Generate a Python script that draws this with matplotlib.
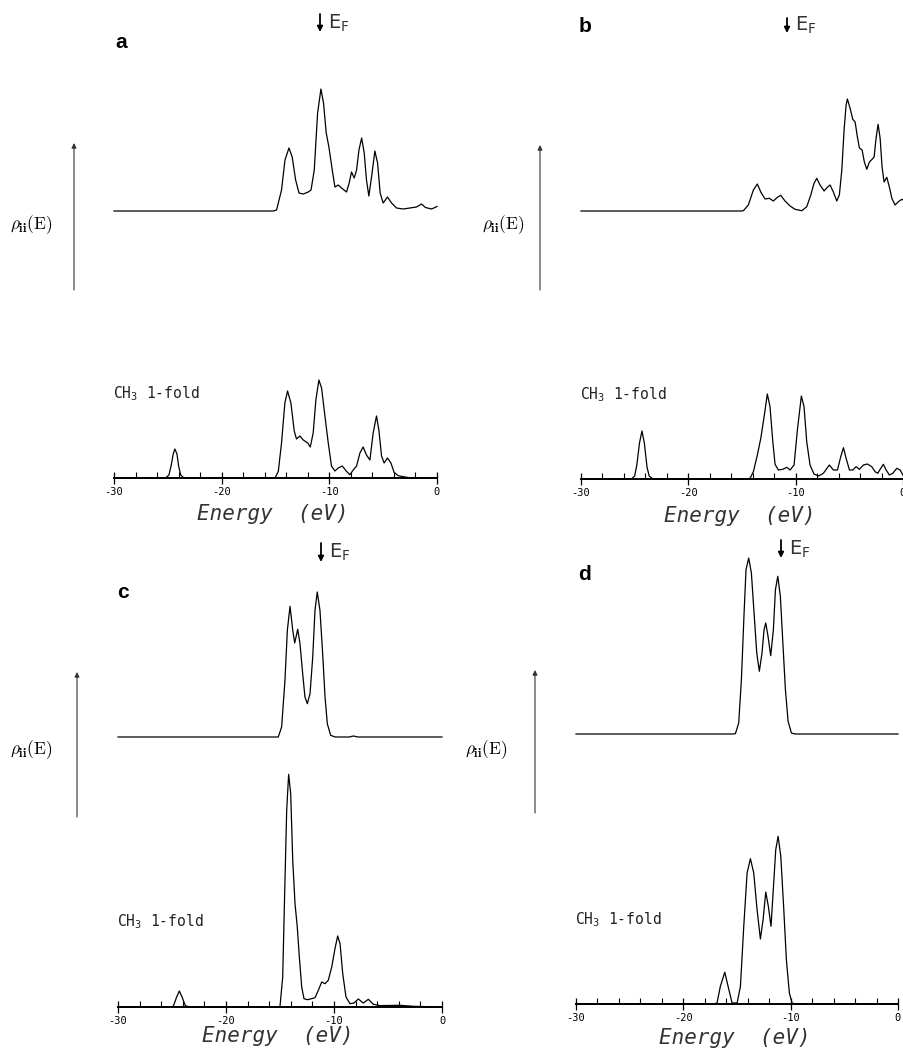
"""Local densities of states rho_ii(E) for CH3 on four sites (panels a-d)."""

import matplotlib

matplotlib.use("Agg")
import matplotlib.pyplot as plt
from matplotlib.ticker import MultipleLocator

W, H = 904, 1053

plt.rcParams["mathtext.fontset"] = "custom"
plt.rcParams["mathtext.rm"] = "DejaVu Sans Mono"
plt.rcParams["mathtext.it"] = "DejaVu Sans Mono"
plt.rcParams["mathtext.default"] = "rm"

# energies in eV, densities in arbitrary units
A_TOP_E = [-30, -15.2, -14.9, -14.44, -14.12, -13.75, -13.45, -13.13, -12.82, -12.42, -11.96, -11.7,
           -11.4, -11.09, -10.78, -10.54, -10.29, -10.04, -9.73, -9.48, -9.17, -8.87, -8.4, -8.16,
           -7.94, -7.69, -7.47, -7.25, -7.0, -6.76, -6.55, -6.33, -6.08, -5.77, -5.52, -5.28, -5.0,
           -4.6, -4.22, -3.76, -3.14, -2.52, -1.9, -1.44, -1.07, -0.5, 0]
A_TOP_RHO = [0, 0, 1, 21, 51, 63, 54, 31, 18, 17, 19, 21, 41, 98, 122, 108, 78, 64, 41, 24, 26, 23,
             19, 28, 39, 33, 41, 61, 73, 58, 31, 15, 34, 60, 48, 18, 8, 14, 8, 3, 2, 3, 4, 7, 3.5, 2, 4.5]

A_BOT_E = [-30, -25.2, -24.9, -24.7, -24.5, -24.35, -24.15, -24.0, -23.8, -23.5, -15.05, -14.74,
           -14.44, -14.13, -13.88, -13.57, -13.26, -13.05, -12.73, -12.42, -12.0, -11.77, -11.5,
           -11.25, -10.97, -10.72, -10.41, -10.1, -9.8, -9.48, -9.17, -8.8, -8.43, -8.09, -7.78,
           -7.47, -7.16, -6.86, -6.55, -6.23, -5.93, -5.62, -5.4, -5.15, -4.91, -4.6, -4.28, -3.98,
           -3.6, -2.98, -2.4, 0]
A_BOT_RHO = [0, 0, 3, 12, 24, 29, 24, 12, 3, 0, 0, 6.6, 35, 75, 87, 75, 47, 39, 42, 38, 35, 31, 45,
             78, 98, 90, 62, 35, 12, 7, 10, 12, 7, 3.3, 8, 12, 25, 31, 23, 18, 45, 62, 48, 22, 15,
             20, 15, 5.6, 2.3, 1, 0, 0]

B_TOP_E = [-30, -15.1, -14.87, -14.41, -13.94, -13.57, -13.25, -12.85, -12.45, -12.08, -11.7, -11.39,
           -10.99, -10.52, -10.06, -9.43, -8.97, -8.59, -8.29, -8.03, -7.73, -7.35, -7.05, -6.79,
           -6.49, -6.17, -5.93, -5.7, -5.49, -5.3, -5.18, -4.93, -4.68, -4.46, -4.25, -4.06, -3.81,
           -3.6, -3.37, -3.13, -2.88, -2.69, -2.51, -2.32, -2.13, -1.95, -1.76, -1.51, -1.27, -1.04,
           -0.74, -0.43, -0.11, 0]
B_TOP_RHO = [0, 0, 0.3, 6, 21, 27, 19, 12, 12.7, 10, 13.7, 15.7, 10, 5, 1.7, 0.3, 4.3, 16, 27.7,
             32.7, 26, 20, 23.7, 26, 19, 10, 16, 41, 81, 106, 112, 102.7, 91.7, 89, 74, 63, 61, 49,
             41.7, 49, 51.7, 54, 72.7, 86.7, 72.7, 44, 29, 33.7, 24, 12.7, 6, 9.3, 11.7, 11]

B_BOT_E = [-30, -25.3, -25.0, -24.8, -24.55, -24.32, -24.1, -23.85, -23.65, -23.3, -14.6, -14.25,
           -13.94, -13.57, -13.25, -12.94, -12.64, -12.39, -12.13, -11.92, -11.61, -11.2, -10.83,
           -10.52, -10.15, -9.84, -9.47, -9.22, -8.97, -8.66, -8.29, -7.88, -7.42, -6.86, -6.49,
           -6.11, -5.8, -5.55, -5.3, -4.99, -4.68, -4.37, -4.06, -3.69, -3.32, -2.91, -2.6, -2.35,
           -2.13, -1.83, -1.57, -1.27, -0.95, -0.58, -0.27, 0]
B_BOT_RHO = [0, 0, 3, 14, 36, 48, 36, 12, 3, 0, 0, 0.7, 7.3, 24, 40.7, 62.3, 85, 72.3, 37.3, 14.7,
             9, 9.7, 11.7, 9, 14, 49, 83, 72.3, 37.3, 14, 5, 3, 5.7, 14, 9, 9, 22.3, 31.3, 20.7, 9,
             9, 12.3, 9.7, 14, 15, 12.3, 7.3, 5.7, 9.7, 14.7, 9, 4, 5.7, 10.7, 9, 4]

C_TOP_E = [-30, -15.16, -14.85, -14.54, -14.32, -14.07, -13.82, -13.64, -13.36, -13.15, -12.9,
           -12.69, -12.47, -12.22, -11.97, -11.76, -11.55, -11.3, -11.05, -10.83, -10.62, -10.31,
           -9.9, -8.6, -8.21, -7.8, 0]
C_TOP_RHO = [0, 0, 10, 56.7, 106.7, 130.7, 106.7, 94, 107.7, 93.3, 63.3, 40, 33.3, 43.3, 80, 126.7,
             145, 126.7, 83.3, 40, 13.3, 1.7, 0, 0, 1, 0, 0]

C_BOT_E = [-30, -25.2, -24.88, -24.57, -24.32, -24.07, -23.77, -23.4, -15.2, -15.0, -14.75, -14.57,
           -14.38, -14.2, -14.01, -13.82, -13.61, -13.4, -13.21, -12.99, -12.78, -12.47, -12.07,
           -11.76, -11.45, -11.14, -10.83, -10.53, -10.21, -9.91, -9.66, -9.44, -9.19, -8.89, -8.52,
           -8.15, -7.75, -7.29, -6.82, -6.36, -5.74, -3.89, -2.65, 0]
C_BOT_RHO = [0, 0, 0.7, 10, 16, 10, 1.4, 0, 0, 0.7, 30, 113, 196.7, 232.7, 213.3, 146.7, 103.3, 80,
             50, 20, 8.3, 7.3, 8.3, 9.3, 16.7, 25, 23.3, 26.7, 40, 58.3, 71, 63.3, 33.3, 10, 3.3, 4,
             8, 4, 7.7, 2.7, 1.4, 1.7, 0.7, 0]

D_TOP_E = [-30, -15.4, -15.15, -14.84, -14.59, -14.34, -14.16, -13.91, -13.66, -13.41, -13.16, -12.92,
           -12.67, -12.48, -12.32, -12.11, -11.86, -11.61, -11.42, -11.2, -10.96, -10.71, -10.49,
           -10.24, -9.93, -9.6, 0]
D_TOP_RHO = [0, 0, 0.3, 11, 54.3, 121, 164.3, 176, 161, 121, 81, 62.7, 81, 104.3, 111, 97.7, 78.3,
             104.3, 144.3, 157.7, 137.7, 87.7, 44.3, 12.7, 1, 0, 0]

D_BOT_E = [-30, -17.2, -16.86, -16.55, -16.14, -15.83, -15.46, -14.99, -14.68, -14.37, -14.06, -13.75,
           -13.44, -13.13, -12.82, -12.57, -12.32, -12.08, -11.83, -11.58, -11.39, -11.17, -10.92,
           -10.64, -10.4, -10.12, -9.87, -9.6, 0]
D_BOT_RHO = [0, 0, 1, 17.7, 31.7, 17.7, 1, 1, 17.7, 77.7, 131, 145.3, 131, 94.3, 65, 84.3, 112, 97.7,
             77.7, 121, 154.3, 167.7, 147.7, 94.3, 44.3, 11, 1, 0, 0]

XTICKS = [-30, -20, -10, 0]
XTICK_LABELS = ["-30", "-20", "-10", "0"]
SITE_LABEL = r"CH$_3$ 1-fold"

# layout of each panel in source pixels (x from left, y from top)
PANELS = [
    dict(letter="a", top=(A_TOP_E, A_TOP_RHO), bot=(A_BOT_E, A_BOT_RHO),
         x0=114, x1=437, axis_y=478, top_base=211, arrow_x=74, arrow_y=(290, 143),
         rho_xy=(10, 225), letter_xy=(115, 42), ef_x=320, ef_y=(14, 32),
         site_xy=(113, 394), energy_xy=(273, 514)),
    dict(letter="b", top=(B_TOP_E, B_TOP_RHO), bot=(B_BOT_E, B_BOT_RHO),
         x0=581, x1=903, axis_y=479, top_base=211, arrow_x=540, arrow_y=(290, 145),
         rho_xy=(482, 225), letter_xy=(579, 27), ef_x=787, ef_y=(18, 33),
         site_xy=(580, 395), energy_xy=(740, 516)),
    dict(letter="c", top=(C_TOP_E, C_TOP_RHO), bot=(C_BOT_E, C_BOT_RHO),
         x0=118, x1=442, axis_y=1007, top_base=737, arrow_x=77, arrow_y=(817, 672),
         rho_xy=(10, 750), letter_xy=(117, 592), ef_x=321, ef_y=(543, 562),
         site_xy=(117, 922), energy_xy=(278, 1036)),
    dict(letter="d", top=(D_TOP_E, D_TOP_RHO), bot=(D_BOT_E, D_BOT_RHO),
         x0=576, x1=898, axis_y=1004, top_base=734, arrow_x=535, arrow_y=(813, 670),
         rho_xy=(465, 750), letter_xy=(578, 575), ef_x=781, ef_y=(540, 558),
         site_xy=(575, 920), energy_xy=(735, 1038)),
]


def fx(px):
    return px / W


def fy(py):
    return 1 - py / H


fig = plt.figure(figsize=(W / 100, H / 100), dpi=100)

for p in PANELS:
    top_y = p["axis_y"] - 445
    ax = fig.add_axes([fx(p["x0"]), fy(p["axis_y"]), fx(p["x1"]) - fx(p["x0"]),
                       fy(top_y) - fy(p["axis_y"])])
    ax.set_xlim(-30, 0)
    ax.set_ylim(0, p["axis_y"] - top_y)
    ax.patch.set_alpha(0)

    offset = p["axis_y"] - p["top_base"]
    e_top, rho_top = p["top"]
    ax.plot(e_top, [v + offset for v in rho_top], color="black", lw=0.9, clip_on=False)
    e_bot, rho_bot = p["bot"]
    ax.plot(e_bot, rho_bot, color="black", lw=0.9, clip_on=False)

    for side in ("top", "left", "right"):
        ax.spines[side].set_visible(False)
    ax.spines["bottom"].set_linewidth(1.4)
    ax.set_yticks([])
    ax.set_xticks(XTICKS)
    ax.set_xticklabels(XTICK_LABELS, fontfamily="DejaVu Sans Mono", fontsize=7.5)
    ax.xaxis.set_minor_locator(MultipleLocator(2))
    ax.tick_params(axis="x", which="major", direction="inout", length=9, width=0.9, pad=2)
    ax.tick_params(axis="x", which="minor", direction="in", length=4, width=0.8)

    ex, ey = p["energy_xy"]
    fig.text(fx(ex), fy(ey), "Energy  (eV)", fontfamily="DejaVu Sans Mono", style="oblique",
             fontsize=15, ha="center", va="center", color="#333333")

    sx, sy = p["site_xy"]
    fig.text(fx(sx), fy(sy), SITE_LABEL, fontfamily="DejaVu Sans Mono", fontsize=10.5,
             ha="left", va="center", math_fontfamily="custom", color="#222222")

    lx, ly = p["letter_xy"]
    fig.text(fx(lx), fy(ly), p["letter"], fontfamily="Liberation Sans", fontweight="bold",
             fontsize=15, ha="left", va="center")

    rx, ry = p["rho_xy"]
    fig.text(fx(rx), fy(ry), r"$\rho_{\mathbf{ii}}(\mathrm{E})$", math_fontfamily="cm",
             fontsize=12.5, ha="left", va="center")

    ay0, ay1 = p["arrow_y"]
    ax.annotate("", xy=(p["arrow_x"], H - ay1), xytext=(p["arrow_x"], H - ay0),
                xycoords="figure pixels", textcoords="figure pixels", annotation_clip=False,
                arrowprops=dict(arrowstyle="-|>", lw=0.8, color="#333333", mutation_scale=7,
                                shrinkA=0, shrinkB=0))

    fy0, fy1 = p["ef_y"]
    ax.annotate("", xy=(p["ef_x"], H - fy1), xytext=(p["ef_x"], H - fy0),
                xycoords="figure pixels", textcoords="figure pixels", annotation_clip=False,
                arrowprops=dict(arrowstyle="-|>", lw=1.3, color="black", mutation_scale=8,
                                shrinkA=0, shrinkB=0))
    fig.text(fx(p["ef_x"] + 8), fy((fy0 + fy1) / 2), r"$\mathrm{E}_{\mathrm{F}}$",
             math_fontfamily="dejavusans", fontsize=14, ha="left", va="center", color="#333333")

fig.savefig("out.png", dpi=100)
